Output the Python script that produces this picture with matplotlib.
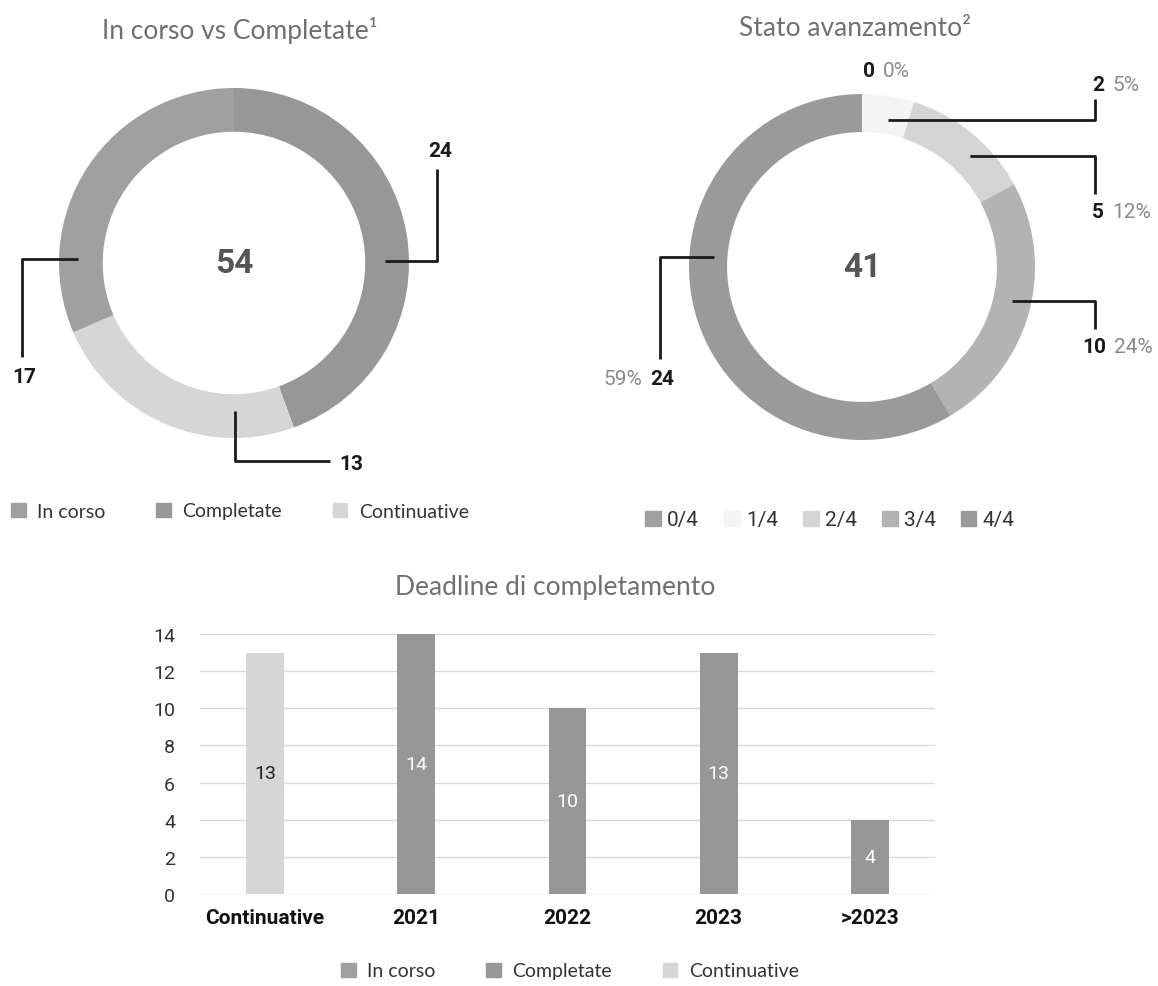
import matplotlib
matplotlib.use("Agg")
import matplotlib.pyplot as plt
from matplotlib.patches import Patch

# region Data

status_labels = ["In corso", "Completate", "Continuative"]
status_counts = [17, 24, 13]

progress_labels = ["0/4", "1/4", "2/4", "3/4", "4/4"]
progress_counts = [0, 2, 5, 10, 24]

deadline_labels = ["Continuative", "2021", "2022", "2023", ">2023"]
deadline_counts = [13, 14, 10, 13, 4]

# endregion

W, H = 1158, 987
C_INCORSO = "#a0a0a0"
C_COMPL = "#979797"
C_CONT = "#d6d6d6"
progress_colors = ["#a0a0a0", "#f4f4f4", "#d4d4d4", "#b3b3b3", "#9a9a9a"]

TITLE_FONT = ["Lato", "DejaVu Sans"]
NUM_FONT = ["Roboto", "DejaVu Sans"]

fig = plt.figure(figsize=(W / 100, H / 100), dpi=100)
fig.patch.set_facecolor("white")


def px_axes(left, top, width, height):
    return fig.add_axes([left / W, 1 - (top + height) / H, width / W, height / H])


def donut_axes(box, center, radius):
    left, top, width, height = box
    ax = px_axes(left, top, width, height)
    cx, cy = center

    def to_u(px, py):
        return (px - cx) / radius, (cy - py) / radius

    def fix_limits():
        ax.set_xlim((left - cx) / radius, (left + width - cx) / radius)
        ax.set_ylim((cy - top - height) / radius, (cy - top) / radius)
        ax.axis("off")

    return ax, to_u, fix_limits


def leader(ax, to_u, pts):
    xs, ys = zip(*[to_u(*p) for p in pts])
    ax.plot(xs, ys, color="#1a1a1a", lw=2, solid_capstyle="butt", zorder=5)


def bold_num(ax, to_u, px, py, text, ha="center"):
    ax.text(*to_u(px, py), text, ha=ha, va="center", fontsize=15,
            fontweight="bold", color="#1a1a1a", family=NUM_FONT)


# ---- Donut 1: In corso vs Completate
ax1, u1, fix1 = donut_axes((0, 55, 580, 485), (234, 264), 175)
order1 = [1, 2, 0]  # clockwise from top: Completate, Continuative, In corso
colors1 = [C_INCORSO, C_COMPL, C_CONT]
ax1.pie([status_counts[i] for i in order1], colors=[colors1[i] for i in order1],
        startangle=90, counterclock=False, radius=1,
        wedgeprops=dict(width=0.25, edgecolor="none"))
fix1()
ax1.text(0, 0, str(sum(status_counts)), ha="center", va="center", fontsize=24,
         fontweight="bold", color="#555555", family=NUM_FONT)

leader(ax1, u1, [(385, 262), (437, 262), (437, 170)])
bold_num(ax1, u1, 440, 152, str(status_counts[1]))
leader(ax1, u1, [(78, 260), (22, 260), (22, 358)])
bold_num(ax1, u1, 24, 378, str(status_counts[0]))
leader(ax1, u1, [(235, 412), (235, 462), (330, 462)])
bold_num(ax1, u1, 351, 465, str(status_counts[2]))

fig.text(240 / W, 1 - 30 / H, "In corso vs Completate\u00b9", ha="center", va="center",
         fontsize=19, color="#707070", family=TITLE_FONT)
fig.legend([Patch(color=c) for c in colors1], status_labels, loc="center",
           bbox_to_anchor=(240 / W, 1 - 512 / H), ncol=3, frameon=False,
           handlelength=0.75, handleheight=0.75, columnspacing=2.6, handletextpad=0.6,
           prop=dict(family=TITLE_FONT, size=14), labelcolor="#333333")

# ---- Donut 2: Stato avanzamento
ax2, u2, fix2 = donut_axes((600, 55, 558, 485), (862, 268), 173)
ax2.pie(progress_counts, colors=progress_colors, startangle=90, counterclock=False,
        radius=1, wedgeprops=dict(width=0.22, edgecolor="none"))
fix2()
total2 = sum(progress_counts)
ax2.text(0, 0, str(total2), ha="center", va="center", fontsize=24,
         fontweight="bold", color="#555555", family=NUM_FONT)
pcts = [f"{round(v / total2 * 100)}%" for v in progress_counts]


def value_label(ax, to_u, px, py, i, pct_left=True):
    num = str(progress_counts[i])
    if pct_left:
        bold_num(ax, to_u, px, py, num, ha="right")
        ax.text(*to_u(px + 8, py), pcts[i], ha="left", va="center", fontsize=15,
                color="#8a8a8a", family=NUM_FONT)
    else:
        bold_num(ax, to_u, px, py, num, ha="left")
        ax.text(*to_u(px - 8, py), pcts[i], ha="right", va="center", fontsize=15,
                color="#8a8a8a", family=NUM_FONT)


value_label(ax2, u2, 875, 72, 0)
leader(ax2, u2, [(888, 121), (1095, 121), (1095, 100)])
value_label(ax2, u2, 1104, 86, 1)
leader(ax2, u2, [(970, 157), (1095, 157), (1095, 195)])
value_label(ax2, u2, 1104, 213, 2)
leader(ax2, u2, [(1012, 302), (1095, 302), (1095, 330)])
value_label(ax2, u2, 1106, 348, 3)
leader(ax2, u2, [(714, 258), (660, 258), (660, 360)])
value_label(ax2, u2, 650, 380, 4, pct_left=False)

fig.text(855 / W, 1 - 28 / H, "Stato avanzamento\u00b2", ha="center", va="center",
         fontsize=19, color="#707070", family=TITLE_FONT)
fig.legend([Patch(color=c) for c in progress_colors], progress_labels, loc="center",
           bbox_to_anchor=(830 / W, 1 - 521 / H), ncol=5, frameon=False,
           handlelength=0.75, handleheight=0.75, columnspacing=1.2, handletextpad=0.3,
           prop=dict(family=NUM_FONT, size=15), labelcolor="#333333")

# ---- Bar chart: Deadline di completamento
ax3 = px_axes(200, 635, 735, 260)
x = list(range(len(deadline_labels)))
bar_colors = [C_CONT, C_COMPL, C_COMPL, C_COMPL, C_COMPL]
bars = ax3.bar(x, deadline_counts, width=0.25, color=bar_colors, zorder=3)
ax3.bar_label(bars, label_type="center", fontsize=14, family=NUM_FONT, padding=0)
for t, c in zip(ax3.texts, ["#222222", "white", "white", "white", "white"]):
    t.set_color(c)
ax3.set_xlim(-0.43, 4.43)
ax3.set_ylim(0, 14)
ax3.set_yticks(range(0, 15, 2))
ax3.grid(axis="y", color="#d9d9d9", lw=1, zorder=0)
for s in ax3.spines.values():
    s.set_visible(False)
ax3.tick_params(axis="both", length=0)
ax3.tick_params(axis="y", pad=18, labelsize=14, labelcolor="#333333")
ax3.tick_params(axis="x", pad=10)
ax3.set_xticks(x)
ax3.set_xticklabels(deadline_labels, fontsize=15, fontweight="bold", color="#111111",
                    family=NUM_FONT)
for lab in ax3.get_yticklabels():
    lab.set_family(NUM_FONT)

fig.text(555 / W, 1 - 588 / H, "Deadline di completamento", ha="center", va="center",
         fontsize=19, color="#707070", family=TITLE_FONT)
fig.legend([Patch(color=c) for c in colors1], status_labels, loc="center",
           bbox_to_anchor=(570 / W, 1 - 972 / H), ncol=3, frameon=False,
           handlelength=0.75, handleheight=0.75, columnspacing=2.6, handletextpad=0.6,
           prop=dict(family=TITLE_FONT, size=14), labelcolor="#333333")

fig.savefig("out.png", dpi=100, facecolor="white")
